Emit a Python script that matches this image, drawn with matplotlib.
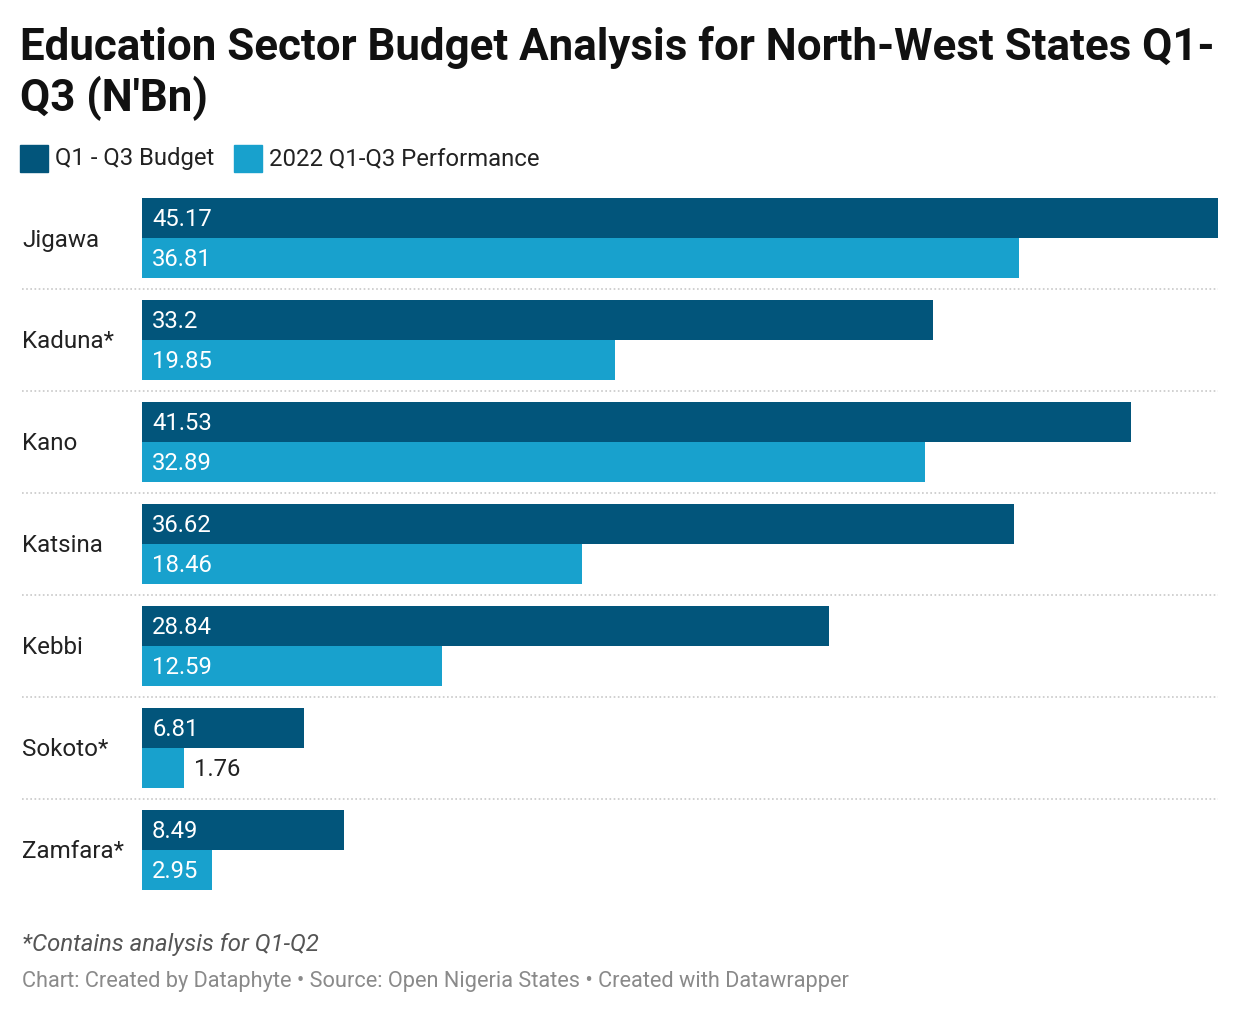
import matplotlib.pyplot as plt
from matplotlib.patches import Rectangle

plt.rcParams['font.family'] = ['Roboto', 'DejaVu Sans']

# data
states = ['Jigawa', 'Kaduna*', 'Kano', 'Katsina', 'Kebbi', 'Sokoto*', 'Zamfara*']
budget = [45.17, 33.2, 41.53, 36.62, 28.84, 6.81, 8.49]
performance = [36.81, 19.85, 32.89, 18.46, 12.59, 1.76, 2.95]
series_names = ['Q1 - Q3 Budget', '2022 Q1-Q3 Performance']

dark = '#02557b'
light = '#18a1cd'
W, H = 1240, 1016

fig = plt.figure(figsize=(W / 100, H / 100), dpi=100)

# axes spans from the row labels (x=22px) to the right edge of the longest bar
left_px, right_px, bar0_px = 22, 1218, 142
xmax = max(budget)
xmin = -(bar0_px - left_px) / (right_px - bar0_px) * xmax
bh = 40 / 102  # bar height relative to row pitch
ax = fig.add_axes([left_px / W, 1 - 890 / H, (right_px - left_px) / W, 692 / H])
ax.set_xlim(xmin, xmax)
ax.set_ylim(len(states) - 1 + bh, -bh)
ax.axis('off')

n = len(states)
ax.barh([i - bh / 2 for i in range(n)], budget, height=bh, color=dark, left=0)
ax.barh([i + bh / 2 for i in range(n)], performance, height=bh, color=light, left=0)

pad = 10 / (right_px - bar0_px) * xmax
dy = 2 / 102  # nudge text down a touch
for i, s in enumerate(states):
    ax.text(xmin, i + dy, s, ha='left', va='center', fontsize=17.4, color='#222222')
    for val, yy in ((budget[i], i - bh / 2), (performance[i], i + bh / 2)):
        lbl = f'{val:g}'
        if val < 2.5:
            ax.text(val + pad, yy + dy, lbl, ha='left', va='center', fontsize=17.2, color='#222222')
        else:
            ax.text(pad, yy + dy, lbl, ha='left', va='center', fontsize=17.2, color='white')
    if i < n - 1:
        ax.plot([xmin, xmax], [i + 0.5, i + 0.5], color='#c8c8c8', lw=1.2,
                linestyle=(0, (1, 1.5)), clip_on=False)

# title
fig.text(20 / W, 1 - 26 / H, "Education Sector Budget Analysis for North-West States Q1-\nQ3 (N'Bn)",
         ha='left', va='top', fontsize=31.6, fontweight='bold', color='#111111', linespacing=1.2)

# legend
for x0, name, c in ((20, series_names[0], dark), (234, series_names[1], light)):
    fig.patches.append(Rectangle((x0 / W, 1 - 172 / H), 28 / W, 27 / H,
                                 transform=fig.transFigure, color=c))
    fig.text((x0 + 35) / W, 1 - 159 / H, name, ha='left', va='center', fontsize=17.2, color='#222222')

# notes
fig.text(22 / W, 1 - 945 / H, '*Contains analysis for Q1-Q2', ha='left', va='center',
         fontsize=17.2, style='italic', color='#555555')
fig.text(22 / W, 1 - 982 / H,
         'Chart: Created by Dataphyte \u2022 Source: Open Nigeria States \u2022 Created with Datawrapper',
         ha='left', va='center', fontsize=15.7, color='#8a8a8a')

fig.savefig('out.png', dpi=100, facecolor='white')
